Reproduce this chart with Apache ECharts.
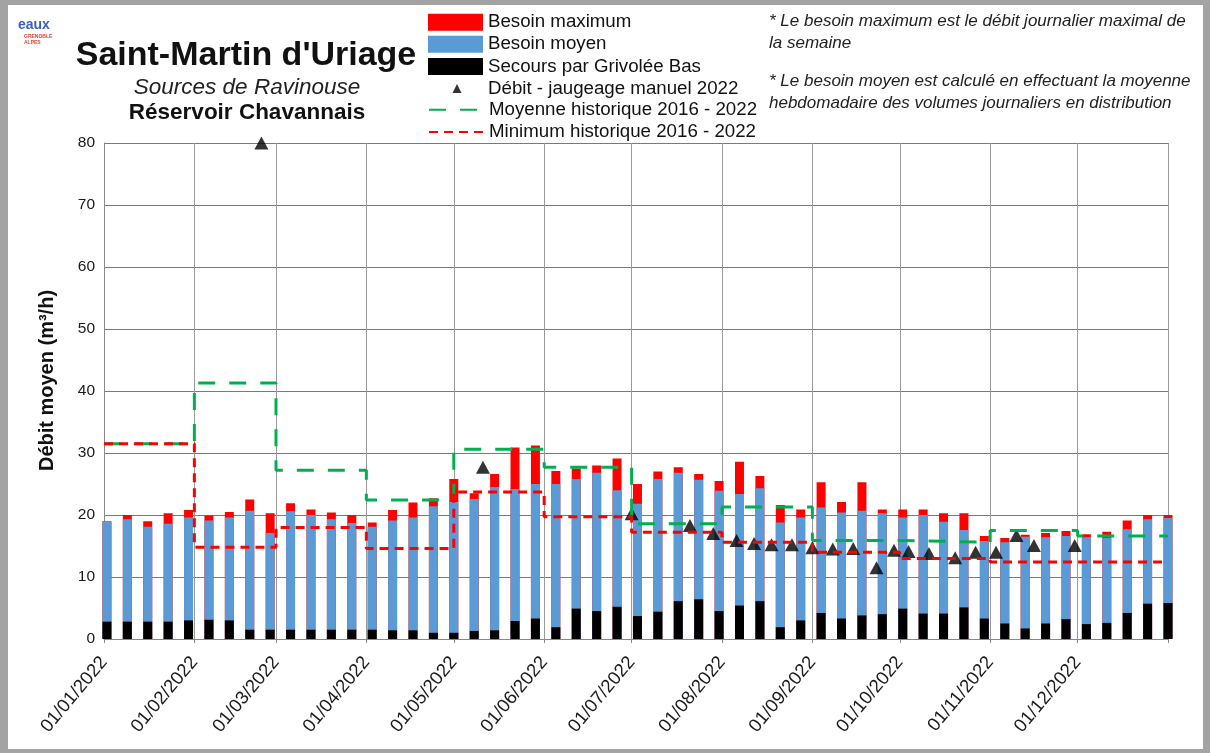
<!DOCTYPE html>
<html>
<head>
<meta charset="utf-8">
<title>Saint-Martin d'Uriage</title>
<script src="https://cdn.jsdelivr.net/npm/echarts@6/dist/echarts.min.js"></script>
<style>
  html, body { margin: 0; padding: 0; background: #fff; }
  #chart { width: 1210px; height: 753px; }
</style>
</head>
<body>
<div id="chart"></div>
<script>
// semaines (une barre par semaine)
var semaines = [
  '2022-01-02', '2022-01-09', '2022-01-16', '2022-01-23', '2022-01-30',
  '2022-02-06', '2022-02-13', '2022-02-20', '2022-02-27',
  '2022-03-06', '2022-03-13', '2022-03-20', '2022-03-27',
  '2022-04-03', '2022-04-10', '2022-04-17', '2022-04-24',
  '2022-05-01', '2022-05-08', '2022-05-15', '2022-05-22', '2022-05-29',
  '2022-06-05', '2022-06-12', '2022-06-19', '2022-06-26',
  '2022-07-03', '2022-07-10', '2022-07-17', '2022-07-24', '2022-07-31',
  '2022-08-07', '2022-08-14', '2022-08-21', '2022-08-28',
  '2022-09-04', '2022-09-11', '2022-09-18', '2022-09-25',
  '2022-10-02', '2022-10-09', '2022-10-16', '2022-10-23', '2022-10-30',
  '2022-11-06', '2022-11-13', '2022-11-20', '2022-11-27',
  '2022-12-04', '2022-12-11', '2022-12-18', '2022-12-25', '2023-01-01'
];
var besoinMax = [
  19.0, 20.0, 19.0, 20.3, 20.8,
  19.9, 20.5, 22.5, 20.3,
  21.9, 20.9, 20.4, 20.0,
  18.8, 20.8, 22.0, 22.7,
  25.8, 23.5, 26.6, 30.9, 31.2,
  27.1, 27.5, 28.0, 29.1,
  25.0, 27.0, 27.7, 26.6, 25.5,
  28.6, 26.3, 21.6, 20.9,
  25.3, 22.1, 25.3, 20.9,
  20.9, 20.9, 20.3, 20.3, 16.6,
  16.3, 16.8, 17.1, 17.4,
  16.9, 17.3, 19.1, 20.0, 20.0
];
var besoinMoyen = [
  19.0, 19.3, 18.1, 18.6, 19.6,
  19.1, 19.6, 20.7, 17.1,
  20.6, 20.0, 19.3, 18.7,
  18.1, 19.1, 19.6, 21.4,
  22.1, 22.6, 24.5, 24.2, 25.0,
  25.0, 25.8, 26.8, 24.0,
  21.8, 25.8, 26.8, 25.7, 23.9,
  23.4, 24.3, 18.8, 19.6,
  21.2, 20.4, 20.7, 20.3,
  19.6, 20.0, 18.9, 17.6, 15.8,
  15.6, 16.5, 16.4, 16.6,
  16.4, 16.3, 17.7, 19.3, 19.5
];
var secours = [
  2.8, 2.8, 2.8, 2.8, 3.0,
  3.1, 3.0, 1.5, 1.5,
  1.5, 1.5, 1.5, 1.5,
  1.5, 1.4, 1.4, 1.0,
  1.0, 1.3, 1.4, 2.9, 3.3,
  1.9, 4.9, 4.5, 5.2,
  3.7, 4.4, 6.1, 6.4, 4.5,
  5.4, 6.1, 1.9, 3.0,
  4.2, 3.3, 3.8, 4.0,
  4.9, 4.1, 4.1, 5.1, 3.3,
  2.5, 1.7, 2.5, 3.2,
  2.4, 2.6, 4.2, 5.7, 5.8
];

// jaugeages manuels 2022
var jaugeageDates = [
  '2022-02-24', '2022-05-11', '2022-07-01', '2022-07-21', '2022-07-29',
  '2022-08-06', '2022-08-12', '2022-08-18', '2022-08-25', '2022-09-01',
  '2022-09-08', '2022-09-15', '2022-09-23', '2022-09-29', '2022-10-04',
  '2022-10-11', '2022-10-20', '2022-10-27', '2022-11-03', '2022-11-10',
  '2022-11-16', '2022-11-30'
];
var jaugeageValeurs = [
  80.0, 27.7, 20.2, 18.3, 17.0,
  15.9, 15.4, 15.2, 15.2, 14.7,
  14.5, 14.6, 11.5, 14.3, 14.1,
  13.8, 13.1, 14.0, 14.0, 16.7,
  15.1, 15.1
];

// historiques mensuels 2016 - 2022
var mois = [
  '2022-01-01', '2022-02-01', '2022-03-01', '2022-04-01', '2022-05-01', '2022-06-01',
  '2022-07-01', '2022-08-01', '2022-09-01', '2022-10-01', '2022-11-01', '2022-12-01'
];
var finAnnee = '2023-01-01';
var moyenneHisto = [31.5, 41.3, 27.2, 22.4, 30.6, 27.7, 18.6, 21.3, 15.9, 15.6, 17.5, 16.6];
var minimumHisto = [31.5, 14.8, 18.0, 14.6, 23.7, 19.7, 17.2, 15.6, 14.0, 13.0, 12.4, 12.4];

var police = '"Liberation Sans", Arial, sans-serif';

// date 'aaaa-mm-jj' -> millisecondes (heure locale)
function jour(s) {
  return new Date(s + 'T00:00:00').getTime();
}

function addZero(a) {
  return a < 10 ? '0' + a : '' + a;
}

function paires(x, y) {
  var out = [];
  x.forEach(function(v, k) {
    out.push([jour(v), y[k]]);
  });
  return out;
}

// palier mensuel, prolongé jusqu'à la fin de l'année
function palier(valeurs) {
  var out = paires(mois, valeurs);
  out.push([jour(finAnnee), valeurs[valeurs.length - 1]]);
  return out;
}

var ticksMois = mois.map(jour);
var legendeTexte = { fontFamily: police, fontSize: 18.7, color: '#111', lineHeight: 17 };

var chart = echarts.init(document.getElementById('chart'));
chart.setOption({
  animation: false,
  backgroundColor: '#a3a3a3',
  textStyle: { fontFamily: police },
  grid: { left: 104, right: 42, top: 143, bottom: 114 },
  legend: [{
    orient: 'vertical',
    left: 428,
    top: 12.7,
    padding: 0,
    itemWidth: 55,
    itemHeight: 17,
    itemGap: 3.1,
    icon: 'rect',
    selectedMode: false,
    textStyle: legendeTexte,
    data: ['Besoin maximum', 'Besoin moyen', 'Secours par Grivolée Bas']
  }, {
    // petit triangle centré dans la colonne des symboles
    orient: 'vertical',
    left: 452.5,
    top: 79,
    padding: 0,
    itemWidth: 9,
    itemHeight: 9,
    selectedMode: false,
    textStyle: { fontFamily: police, fontSize: 18.7, color: '#111', lineHeight: 17, padding: [0, 0, 0, 21.5] },
    data: ['Débit - jaugeage manuel 2022']
  }, {
    orient: 'vertical',
    left: 428,
    top: 100.3,
    padding: 0,
    itemWidth: 55,
    itemHeight: 17,
    itemGap: 3.1,
    selectedMode: false,
    textStyle: legendeTexte,
    data: [
      { name: 'Moyenne historique 2016 - 2022', itemStyle: { opacity: 0 } },
      { name: 'Minimum historique 2016 - 2022', itemStyle: { opacity: 0 } }
    ]
  }],
  xAxis: {
    type: 'value',
    min: jour(mois[0]),
    max: jour(finAnnee),
    axisLine: { lineStyle: { color: '#888' } },
    axisTick: { customValues: ticksMois.concat([jour(finAnnee)]), length: 4, lineStyle: { color: '#888' } },
    axisLabel: {
      customValues: ticksMois,
      formatter: function(v) {
        var d = new Date(v);
        return addZero(d.getDate()) + '/' + addZero(d.getMonth() + 1) + '/' + d.getFullYear();
      },
      rotate: 50,
      fontSize: 18.5,
      color: '#1a1a1a',
      margin: 20
    },
    splitLine: { show: true, lineStyle: { color: '#999', width: 1 } }
  },
  yAxis: {
    type: 'value',
    min: 0,
    max: 80,
    interval: 10,
    name: 'Débit moyen (m³/h)',
    nameLocation: 'middle',
    nameGap: 47,
    nameTextStyle: { fontWeight: 'bold', fontSize: 20, color: '#111', padding: [0, 0, 0, 21] },
    axisLine: { show: true, lineStyle: { color: '#888' } },
    axisTick: { show: false },
    axisLabel: { fontSize: 15.5, color: '#1a1a1a', margin: 9 },
    splitLine: { lineStyle: { color: '#7a7a7a', width: 1.2 } }
  },
  series: [{
    name: 'Besoin maximum',
    type: 'bar',
    barWidth: 9,
    barGap: '-100%',
    itemStyle: { color: '#ff0000' },
    emphasis: { disabled: true },
    data: paires(semaines, besoinMax)
  }, {
    name: 'Besoin moyen',
    type: 'bar',
    barWidth: 9,
    barGap: '-100%',
    itemStyle: { color: '#5b9bd5' },
    emphasis: { disabled: true },
    data: paires(semaines, besoinMoyen)
  }, {
    name: 'Secours par Grivolée Bas',
    type: 'bar',
    barWidth: 9,
    barGap: '-100%',
    itemStyle: { color: '#000' },
    emphasis: { disabled: true },
    data: paires(semaines, secours)
  }, {
    name: 'Moyenne historique 2016 - 2022',
    type: 'line',
    step: 'end',
    symbol: 'none',
    color: '#00b050',
    lineStyle: { color: '#00b050', width: 3, type: [17, 14] },
    emphasis: { disabled: true },
    data: palier(moyenneHisto)
  }, {
    name: 'Minimum historique 2016 - 2022',
    type: 'line',
    step: 'end',
    symbol: 'none',
    color: '#ff0000',
    lineStyle: { color: '#ff0000', width: 3, type: [9, 6] },
    emphasis: { disabled: true },
    data: palier(minimumHisto)
  }, {
    name: 'Débit - jaugeage manuel 2022',
    type: 'scatter',
    symbol: 'triangle',
    symbolSize: [14, 13],
    itemStyle: { color: '#000' },
    emphasis: { disabled: true },
    data: paires(jaugeageDates, jaugeageValeurs)
  }],
  graphic: [
    { type: 'rect', z: -100, silent: true, shape: { x: 8, y: 5, width: 1195, height: 744 }, style: { fill: '#fff' } },
    // logo
    { type: 'text', style: { text: 'eaux', x: 18, y: 18, font: 'bold 14px ' + police, fill: '#3b5fc0' } },
    { type: 'text', style: { text: 'GRENOBLE\nALPES', x: 24, y: 34, font: 'bold 5px ' + police, fill: '#e8403a', lineHeight: 6 } },
    // titres
    { type: 'text', style: { text: "Saint-Martin d'Uriage", x: 246, y: 56, font: 'bold 34px ' + police, fill: '#111', align: 'center', verticalAlign: 'middle' } },
    { type: 'text', style: { text: 'Sources de Ravinouse', x: 247, y: 88, font: 'italic 22.5px ' + police, fill: '#222', align: 'center', verticalAlign: 'middle' } },
    { type: 'text', style: { text: 'Réservoir Chavannais', x: 247, y: 113, font: 'bold 22.5px ' + police, fill: '#111', align: 'center', verticalAlign: 'middle' } },
    // notes
    { type: 'text', style: { text: '* Le besoin maximum est le débit journalier maximal de\nla semaine', x: 769, y: 10, font: 'italic 17px ' + police, fill: '#222', lineHeight: 22.5 } },
    { type: 'text', style: { text: '* Le besoin moyen est calculé en effectuant la moyenne\nhebdomadaire des volumes journaliers en distribution', x: 769, y: 70, font: 'italic 17px ' + police, fill: '#222', lineHeight: 22.5 } }
  ]
});
</script>
</body>
</html>
